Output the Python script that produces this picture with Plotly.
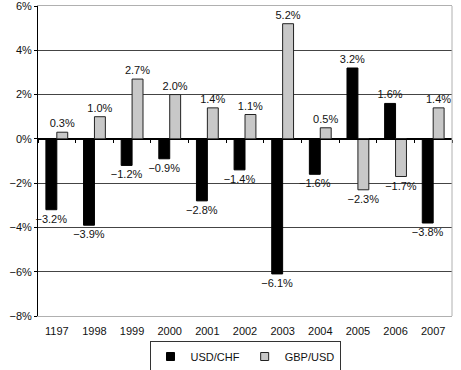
import plotly.graph_objects as go

years = ["1197", "1998", "1999", "2000", "2001", "2002", "2003", "2004", "2005", "2006", "2007"]
usd_chf = [-3.2, -3.9, -1.2, -0.9, -2.8, -1.4, -6.1, -1.6, 3.2, 1.6, -3.8]
gbp_usd = [0.3, 1.0, 2.7, 2.0, 1.4, 1.1, 5.2, 0.5, -2.3, -1.7, 1.4]
y_ticks = [-8, -6, -4, -2, 0, 2, 4, 6]


def fmt(v):
    s = f"{abs(v):.1f}%"
    return ("\u2212" + s) if v < 0 else s


font_family = "Liberation Sans, Arial, sans-serif"
black_col = "#000000"
gray_col = "#c8c8c8"

fig = go.Figure()
fig.add_trace(go.Bar(
    x=years, y=usd_chf, name="USD/CHF", showlegend=False,
    marker=dict(color=black_col, line=dict(color=black_col, width=1)),
    text=[fmt(v) for v in usd_chf], textposition="outside", constraintext="none",
    textfont=dict(size=11, color="#111111", family=font_family),
    cliponaxis=False,
))
fig.add_trace(go.Bar(
    x=years, y=gbp_usd, name="GBP/USD", showlegend=False,
    marker=dict(color=gray_col, line=dict(color="#222222", width=1)),
    text=[fmt(v) for v in gbp_usd], textposition="outside", constraintext="none",
    textfont=dict(size=11, color="#111111", family=font_family),
    cliponaxis=False,
))
# legend entries with small square symbols
fig.add_trace(go.Scatter(x=[None], y=[None], mode="markers", name="USD/CHF",
                         marker=dict(symbol="square", size=8, color=black_col,
                                     line=dict(color=black_col, width=1))))
fig.add_trace(go.Scatter(x=[None], y=[None], mode="markers", name="GBP/USD",
                         marker=dict(symbol="square", size=8, color=gray_col,
                                     line=dict(color="#222222", width=1))))
# invisible helper trace so the tick axis along zero renders
fig.add_trace(go.Scatter(x=years, y=[None] * len(years), xaxis="x2",
                         showlegend=False, hoverinfo="skip", mode="markers"))

fig.update_layout(
    width=461, height=370,
    margin=dict(l=38, r=9, t=6, b=54, autoexpand=False),
    paper_bgcolor="white", plot_bgcolor="white",
    barmode="group", bargap=0.42, bargroupgap=0,
    font=dict(family=font_family, size=11, color="#111111"),
    xaxis=dict(
        type="category", categoryorder="array", categoryarray=years,
        range=[-0.5, 10.5], automargin=False,
        showgrid=False, showline=True, mirror=True, linecolor="#b0b0b0", linewidth=1,
        ticks="", tickfont=dict(size=11), ticklabelstandoff=5,
    ),
    xaxis2=dict(
        type="category", categoryorder="array", categoryarray=years,
        range=[-0.5, 10.5], overlaying="x", anchor="free", position=8 / 14,
        showgrid=False, showline=True, linecolor="#000000", linewidth=1,
        ticks="outside", tickson="boundaries", ticklen=3, tickcolor="#000000",
        showticklabels=False, zeroline=False, automargin=False,
    ),
    yaxis=dict(
        range=[-8, 6], tickmode="array", tickvals=y_ticks,
        ticktext=[fmt(v).replace(".0", "") for v in y_ticks],
        ticklabeloverflow="allow", automargin=False,
        showgrid=True, gridcolor="#444444", gridwidth=1,
        zeroline=True, zerolinecolor="#000000", zerolinewidth=1,
        showline=True, linecolor="#000000", linewidth=1,
        ticks="outside", ticklen=3, tickcolor="#000000",
        tickfont=dict(size=11),
    ),
    legend=dict(
        orientation="h", x=0.5, xanchor="center",
        yref="container", y=1 - 341 / 370, yanchor="top",
        bordercolor="#333333", borderwidth=1, font=dict(size=11),
        itemwidth=30, tracegroupgap=0,
    ),
    shapes=[dict(type="line", xref="paper", yref="paper", x0=1, x1=1, y0=0, y1=1,
                 line=dict(color="#b0b0b0", width=1), layer="above")],
)

fig.write_html("out.html")
